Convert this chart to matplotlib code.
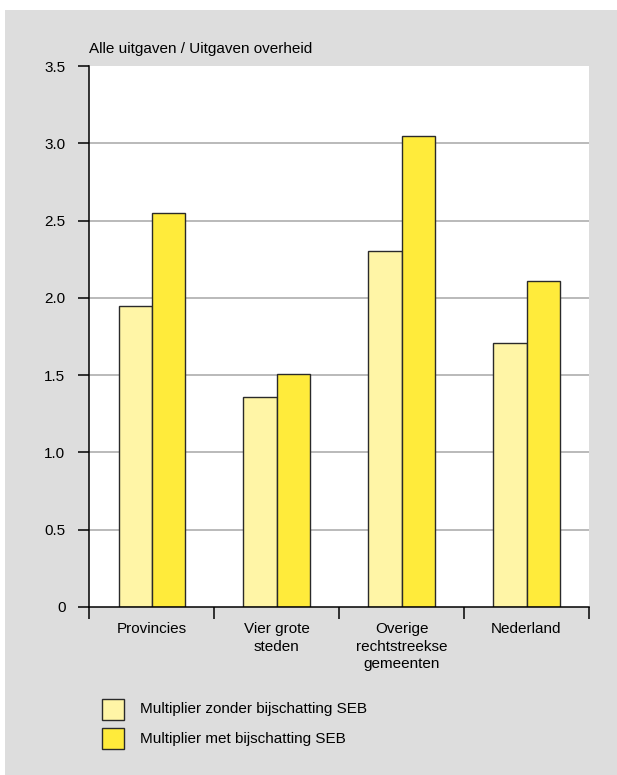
import matplotlib.pyplot as plt
import numpy as np
from matplotlib.patches import Rectangle
from matplotlib.ticker import FuncFormatter

plt.rcParams['font.family'] = ['Liberation Sans', 'DejaVu Sans']

categories = ['Provincies', 'Vier grote\nsteden', 'Overige\nrechtstreekse\ngemeenten', 'Nederland']
zonder_seb = [1.95, 1.36, 2.30, 1.71]
met_seb = [2.55, 1.51, 3.05, 2.11]
series_labels = ['Multiplier zonder bijschatting SEB', 'Multiplier met bijschatting SEB']
y_ticks = [0, 0.5, 1.0, 1.5, 2.0, 2.5, 3.0, 3.5]
y_title = 'Alle uitgaven / Uitgaven overheid'

light = '#fff5a6'
dark = '#ffeb3b'
edge = '#2a2a2a'
bg = '#dddddd'
fs = 11

W, H = 617, 775
fig = plt.figure(figsize=(W / 100, H / 100), dpi=100, facecolor='white')
# grey panel (small white strip left and top)
fig.patches.append(Rectangle((5 / W, 0), 1, (H - 10) / H, transform=fig.transFigure,
                             facecolor=bg, edgecolor='none', zorder=-10))

ax = fig.add_axes([89 / W, 168 / H, 500 / W, 541 / H])
ax.set_facecolor('white')

x = np.arange(len(categories)) + 0.5
bw = 0.264
ax.bar(x - bw / 2, zonder_seb, bw, color=light, edgecolor=edge, linewidth=1.0, zorder=3)
ax.bar(x + bw / 2, met_seb, bw, color=dark, edgecolor=edge, linewidth=1.0, zorder=3)

ax.set_xlim(0, len(categories))
ax.set_ylim(0, 3.5)

for y in y_ticks[1:-1]:
    ax.axhline(y, color='#b4b4b4', linewidth=1.3, zorder=1)

ax.set_yticks(y_ticks)
ax.yaxis.set_major_formatter(FuncFormatter(lambda v, p: '0' if v == 0 else f'{v:.1f}'))
ax.tick_params(axis='y', direction='out', length=8, width=1.1, pad=9, labelsize=fs, colors='black')

ax.set_xticks(x)
ax.set_xticklabels(categories, fontsize=fs, linespacing=1.3)
ax.set_xticks(np.arange(len(categories) + 1), minor=True)
ax.tick_params(axis='x', which='major', length=0, pad=11)
ax.tick_params(axis='x', which='minor', direction='out', length=8.6, width=1.1)

for s in ['top', 'right']:
    ax.spines[s].set_visible(False)
for s in ['left', 'bottom']:
    ax.spines[s].set_linewidth(1.1)
    ax.spines[s].set_zorder(4)

fig.text(89 / W, (H - 53) / H, y_title, fontsize=fs, ha='left', va='baseline')

# legend
fills = [light, dark]
for i, (lab, col) in enumerate(zip(series_labels, fills)):
    top = 699 + i * 29
    fig.patches.append(Rectangle((102 / W, (H - top - 21) / H), 22 / W, 21 / H,
                                 transform=fig.transFigure, facecolor=col,
                                 edgecolor=edge, linewidth=1.0))
    fig.text(140 / W, (H - top - 10.5) / H, lab, fontsize=fs, ha='left', va='center')

fig.savefig('out.png', dpi=100, facecolor=fig.get_facecolor())
